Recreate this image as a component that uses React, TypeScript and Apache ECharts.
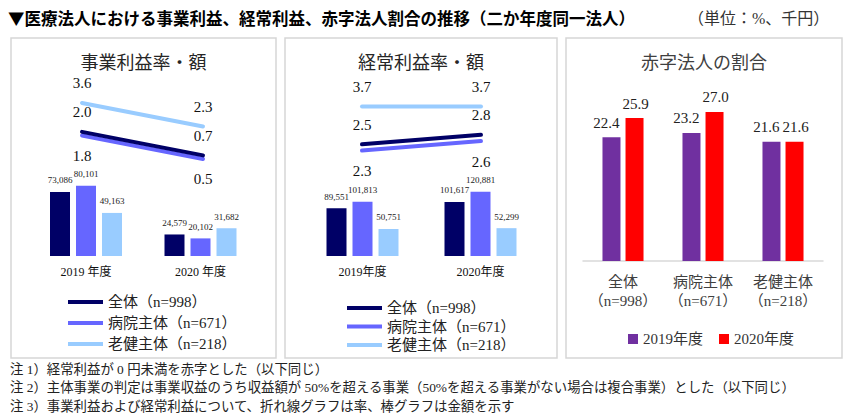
import React, { useEffect, useRef } from "react";
import * as echarts from "echarts";

// ---- data ----
const yearLabels1 = ["2019 年度", "2020 年度"];
const yearLabels2 = ["2019年度", "2020年度"];
const groupNames = ["全体（n=998）", "病院主体（n=671）", "老健主体（n=218）"];

// 事業利益率 (%)
const bizRateAll = [2.0, 0.7];
const bizRateHosp = [1.8, 0.5];
const bizRateRoken = [3.6, 2.3];
// 事業利益額 (千円)
const bizAmtAll = [73086, 24579];
const bizAmtHosp = [80101, 20102];
const bizAmtRoken = [49163, 31682];

// 経常利益率 (%)
const ordRateAll = [2.5, 2.8];
const ordRateHosp = [2.3, 2.6];
const ordRateRoken = [3.7, 3.7];
// 経常利益額 (千円)
const ordAmtAll = [89551, 101617];
const ordAmtHosp = [101813, 120881];
const ordAmtRoken = [50751, 52299];

// 赤字法人の割合 (%)
const deficitCats = ["全体\n（n=998）", "病院主体\n（n=671）", "老健主体\n（n=218）"];
const deficitYears = ["2019年度", "2020年度"];
const deficit2019 = [22.4, 23.2, 21.6];
const deficit2020 = [25.9, 27.0, 21.6];

const notes = [
  "注 1）経常利益が 0 円未満を赤字とした（以下同じ）",
  "注 2）主体事業の判定は事業収益のうち収益額が 50%を超える事業（50%を超える事業がない場合は複合事業）とした（以下同じ）",
  "注 3）事業利益および経常利益について、折れ線グラフは率、棒グラフは金額を示す",
];

// ---- styles ----
const SERIF = '"Liberation Serif", "Noto Sans CJK JP", serif';
const SANS = '"Noto Sans CJK JP", sans-serif';
const C_ALL = "#000066";
const C_HOSP = "#6666ff";
const C_ROKEN = "#99ccff";
const C_2019 = "#7030a0";
const C_2020 = "#ff0000";

const fmt = (p: any) => Number(p.value).toLocaleString("en-US");

function lineSeries(name: string, data: number[], color: string, axis: number, pos: "top" | "bottom", z: number) {
  return {
    type: "line",
    name,
    data,
    xAxisIndex: axis,
    yAxisIndex: axis,
    symbol: "circle",
    symbolSize: 2,
    z,
    itemStyle: { color },
    lineStyle: { color, width: 4, cap: "round" },
    label: {
      show: true,
      position: pos,
      distance: pos === "top" ? 11 : 12,
      fontSize: 15,
      fontFamily: SERIF,
      color: "#111",
      formatter: (p: any) => Number(p.value).toFixed(1),
    },
  };
}

function barSeries(name: string, data: number[], color: string, axis: number) {
  return {
    type: "bar",
    name,
    data,
    xAxisIndex: axis,
    yAxisIndex: axis,
    barWidth: 20,
    barGap: "30%",
    itemStyle: { color },
    label: {
      show: true,
      position: "top",
      distance: 7,
      fontSize: 9,
      fontFamily: SERIF,
      color: "#222",
      formatter: fmt,
    },
  };
}

const hiddenY = (max: number) => ({
  type: "value",
  min: 0,
  max,
  show: false,
  splitLine: { show: false },
});

const hiddenCatX = (grid: number, data: string[]) => ({
  type: "category",
  gridIndex: grid,
  data,
  show: false,
});

const labelCatX = (grid: number, data: string[]) => ({
  type: "category",
  gridIndex: grid,
  data,
  axisLine: { show: false },
  axisTick: { show: false },
  axisLabel: { fontSize: 12, fontFamily: SERIF, color: "#111", margin: 10, interval: 0 },
});

export default function App() {
  const ref = useRef<HTMLDivElement>(null);

  useEffect(() => {
    document.body.style.margin = "0";
    const chart = echarts.init(ref.current!, undefined, { renderer: "svg" });

    const panelRect = (x1: number, x2: number) => ({
      type: "rect",
      shape: { x: x1, y: 38, width: x2 - x1, height: 320 },
      style: { fill: "#fff", stroke: "#d6d6d6", lineWidth: 1.5 },
      z: -10,
      silent: true,
    });
    const panelTitle = (x: number, text: string, color: string) => ({
      type: "text",
      x,
      y: 63,
      style: { text, fontSize: 18, fontFamily: SERIF, fill: color, align: "center", verticalAlign: "middle" },
    });

    const option: any = {
      animation: false,
      backgroundColor: "#fff",
      graphic: [
        panelRect(11, 276),
        panelRect(285, 557),
        panelRect(566, 842),
        {
          type: "text",
          x: 8,
          y: 18,
          style: {
            text: "▼医療法人における事業利益、経常利益、赤字法人割合の推移（二か年度同一法人）",
            fontSize: 16.5,
            fontWeight: "bold",
            fontFamily: SANS,
            fill: "#000",
            verticalAlign: "middle",
          },
        },
        {
          type: "text",
          x: 688,
          y: 18,
          style: { text: "（単位：%、千円）", fontSize: 16, fontFamily: SERIF, fill: "#333", verticalAlign: "middle" },
        },
        panelTitle(143.5, "事業利益率・額", "#262626"),
        panelTitle(421, "経常利益率・額", "#262626"),
        panelTitle(704, "赤字法人の割合", "#404040"),
        ...notes.map((t, i) => ({
          type: "text",
          x: 10,
          y: 369 + i * 18.5,
          style: { text: t, fontSize: 13.4, fontFamily: SERIF, fill: "#222", verticalAlign: "middle" },
        })),
      ],
      grid: [
        { left: 21.5, width: 242, top: 95.75, height: 72.25 },
        { left: 28.75, width: 229, top: 168.4, height: 87.6 },
        { left: 302.5, width: 238, top: 97, height: 126 },
        { left: 303.5, width: 236, top: 181.5, height: 74.5 },
        { left: 583, width: 240, top: 95.4, height: 165.6 },
      ],
      xAxis: [
        hiddenCatX(0, yearLabels1),
        labelCatX(1, yearLabels1),
        hiddenCatX(2, yearLabels2),
        labelCatX(3, yearLabels2),
        {
          type: "category",
          gridIndex: 4,
          data: deficitCats,
          axisLine: { show: true, lineStyle: { color: "#d9d9d9", width: 1.5 } },
          axisTick: { show: false },
          axisLabel: { fontSize: 15, fontFamily: SERIF, color: "#404040", margin: 11, lineHeight: 19, interval: 0, hideOverlap: false },
        },
      ],
      yAxis: [
        { ...hiddenY(4), gridIndex: 0 },
        { ...hiddenY(100000), gridIndex: 1 },
        { ...hiddenY(4), gridIndex: 2 },
        { ...hiddenY(140000), gridIndex: 3 },
        { ...hiddenY(30), gridIndex: 4 },
      ],
      legend: [
        {
          data: groupNames,
          orient: "vertical",
          left: 63,
          top: 286.5,
          icon: "rect",
          itemWidth: 35,
          itemHeight: 4,
          itemGap: 0,
          selectedMode: false,
          textStyle: { fontSize: 15, lineHeight: 21, fontFamily: SERIF, color: "#222" },
        },
        {
          data: groupNames,
          orient: "vertical",
          left: 342,
          top: 293.75,
          icon: "rect",
          itemWidth: 35,
          itemHeight: 4,
          itemGap: 0,
          selectedMode: false,
          textStyle: { fontSize: 15, lineHeight: 18.5, fontFamily: SERIF, color: "#222" },
        },
        {
          data: deficitYears,
          orient: "horizontal",
          left: 623,
          top: 324,
          icon: "rect",
          itemWidth: 10,
          itemHeight: 10,
          itemGap: 16,
          selectedMode: false,
          textStyle: { fontSize: 15, lineHeight: 20, fontFamily: SERIF, color: "#333" },
        },
      ],
      series: [
        lineSeries(groupNames[1], bizRateHosp, C_HOSP, 0, "bottom", 2),
        lineSeries(groupNames[0], bizRateAll, C_ALL, 0, "top", 3),
        lineSeries(groupNames[2], bizRateRoken, C_ROKEN, 0, "top", 2),
        barSeries(groupNames[0], bizAmtAll, C_ALL, 1),
        barSeries(groupNames[1], bizAmtHosp, C_HOSP, 1),
        barSeries(groupNames[2], bizAmtRoken, C_ROKEN, 1),
        lineSeries(groupNames[1], ordRateHosp, C_HOSP, 2, "bottom", 2),
        lineSeries(groupNames[0], ordRateAll, C_ALL, 2, "top", 3),
        lineSeries(groupNames[2], ordRateRoken, C_ROKEN, 2, "top", 2),
        barSeries(groupNames[0], ordAmtAll, C_ALL, 3),
        barSeries(groupNames[1], ordAmtHosp, C_HOSP, 3),
        barSeries(groupNames[2], ordAmtRoken, C_ROKEN, 3),
        {
          type: "bar",
          name: deficitYears[0],
          data: deficit2019,
          xAxisIndex: 4,
          yAxisIndex: 4,
          barWidth: 18,
          barGap: "28%",
          itemStyle: { color: C_2019 },
          label: {
            show: true,
            position: "top",
            distance: 7,
            offset: [-5, 0],
            fontSize: 15,
            fontFamily: SERIF,
            color: "#222",
            formatter: (p: any) => Number(p.value).toFixed(1),
          },
        },
        {
          type: "bar",
          name: deficitYears[1],
          data: deficit2020,
          xAxisIndex: 4,
          yAxisIndex: 4,
          barWidth: 18,
          barGap: "28%",
          itemStyle: { color: C_2020 },
          label: {
            show: true,
            position: "top",
            distance: 7,
            offset: [1, 0],
            fontSize: 15,
            fontFamily: SERIF,
            color: "#222",
            formatter: (p: any) => Number(p.value).toFixed(1),
          },
        },
      ],
    };

    chart.setOption(option);
    return () => chart.dispose();
  }, []);

  return <div ref={ref} style={{ width: 851, height: 419 }} />;
}
